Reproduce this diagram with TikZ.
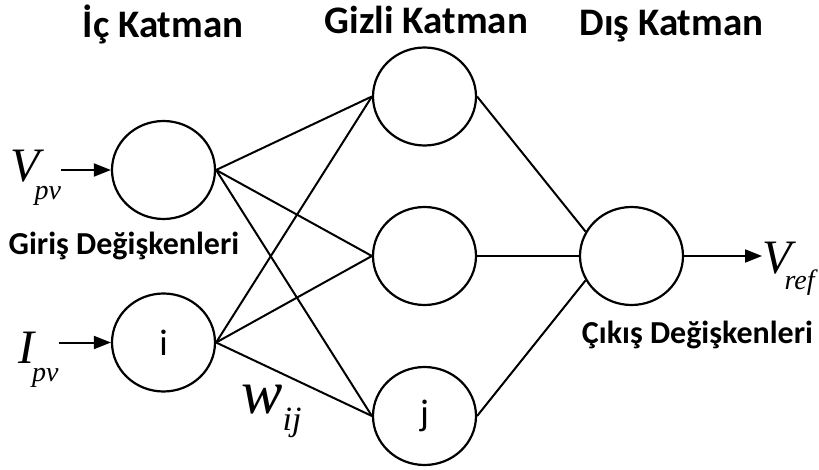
\documentclass[tikz,border=0pt]{standalone}
\usepackage{fontspec}
\setmainfont{Carlito}
\newfontfamily\tnr{Liberation Serif}
\usetikzlibrary{shapes.geometric,arrows.meta}

% italic symbol with a lowered subscript: #1 size, #2 main letter, #3 kern, #4 drop, #5 subscript
\newcommand{\subsym}[5]{{\tnr\itshape\fontsize{#1}{#1}\selectfont #2\kern#3pt\raisebox{-#4pt}{\fontsize{28}{28}\selectfont #5}}}

\begin{document}
\begin{tikzpicture}[x=1pt,y=-1pt,
  neuron/.style={ellipse,draw,line width=2.2pt,minimum width=103pt,minimum height=98pt,
    inner sep=0pt,font=\fontsize{37}{37}\selectfont},
  link/.style={line width=2pt},
  feed/.style={line width=2pt,-{Triangle[length=17pt,width=13pt]}},
  layer/.style={font=\bfseries\fontsize{39}{39}\selectfont,anchor=base,inner sep=0pt},
  varlabel/.style={font=\bfseries\fontsize{32}{32}\selectfont,anchor=base,inner sep=0pt},
  sym/.style={inner sep=0pt,anchor=base west}]
\useasboundingbox (0,0) rectangle (819,470);

% layer titles
\node[layer] (t1) at (163,38) {İç Katman};
\node[layer] (t2) at (426.5,34) {Gizli Katman};
\node[layer] (t3) at (671.5,36) {Dış Katman};

% neurons
\node[neuron] (in1) at (163.5,170) {};
\node[neuron] (in2) at (163.5,342.5) {i};
\node[neuron] (h1) at (424.5,96.5) {};
\node[neuron] (h2) at (424.5,256) {};
\node[neuron] (h3) at (424.5,416) {j};
\node[neuron] (out) at (631.5,256) {};

% weights between layers
\foreach \a in {in1,in2}
  \foreach \b in {h1,h2,h3}
    \draw[link] (\a.east) -- (\b.west);
\draw[link] (h1.east) -- (out.152);
\draw[link] (h2.east) -- (out.west);
\draw[link] (h3.east) -- (out.208);

% inputs and output
\node[sym] (vpv) at (10,182) {\subsym{48}{V}{-5}{18}{pv}};
\node[sym] (ipv) at (18,363) {\subsym{48}{I}{-2}{18}{pv}};
\node[sym] (vref) at (762,274) {\subsym{48}{V}{-7}{16}{ref}};
\draw[feed] (vpv.east |- in1.west) -- (in1.west);
\draw[feed] (ipv.east |- in2.west) -- (in2.west);
\draw[feed] (out.east) -- (vref.west |- out.east);

% weight symbol
\node[sym] (wij) at (241,413) {{\tnr\itshape\fontsize{62}{62}\selectfont w\raisebox{-17pt}{\fontsize{34}{34}\selectfont ij}}};

% variable group labels
\node[varlabel] (inlab) at (124,255) {Giriş Değişkenleri};
\node[varlabel] (outlab) at (697.5,343) {Çıkış Değişkenleri};
\end{tikzpicture}
\end{document}
